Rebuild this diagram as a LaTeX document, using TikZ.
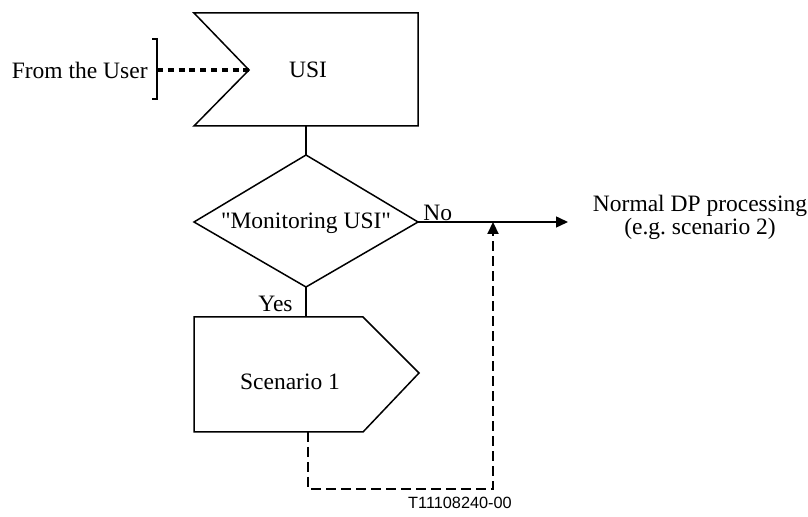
\documentclass[tikz,border=0pt]{standalone}
\usepackage{fontspec}
\setmainfont{Liberation Serif}
\newfontfamily\labelsans{Liberation Sans}
\usetikzlibrary{arrows.meta}
\frenchspacing
\begin{document}
\begin{tikzpicture}[x=0.5pt,y=-0.5pt,
  shapeline/.style={draw=black,line width=0.75pt,line join=miter},
  txt/.style={font=\fontsize{11.75}{14}\selectfont,inner sep=0pt},
  flow/.style={draw=black,line width=0.75pt,-{Triangle[length=6pt,width=5.5pt]}},
  plain/.style={draw=black,line width=0.75pt},
  dottedthick/.style={draw=black,line width=2pt,dash pattern=on 3pt off 2.4pt},
  dashedline/.style={draw=black,line width=1.1pt,dash pattern=on 5pt off 2.5pt},
  backflow/.style={dashedline,-{Triangle[length=6pt,width=5.5pt]}},
]
\useasboundingbox (0,0) rectangle (808,517);

% USI input symbol
\coordinate (usiNotch) at (249,70);
\coordinate (usiBottom) at (306,126);
\draw[shapeline] (194,13) -- (418,13) -- (418,126) -- (194,126) -- (usiNotch) -- cycle;
\node[txt] (usi) at (308,70) {USI};

% From the User with bracket
\node[txt,anchor=east] (user) at (148,70) {From the User};
\coordinate (brk) at (157,70);
\draw[plain] (152,39) -- (157,39) -- (157,99) -- (152,99);
\draw[dottedthick] (brk) -- (usiNotch);

% decision diamond
\coordinate (dTop) at (306,155);
\coordinate (dRight) at (418,222);
\coordinate (dBottom) at (306,287);
\coordinate (dLeft) at (194,222);
\draw[shapeline] (dTop) -- (dRight) -- (dBottom) -- (dLeft) -- cycle;
\node[txt] (mon) at (306,223) {\textquotedbl Monitoring USI\textquotedbl};
\draw[plain] (usiBottom) -- (dTop);

% No branch
\node[txt,anchor=base west] (no) at (423,221) {No};
\coordinate (dpArrow) at (568,222);
\draw[flow] (dRight) -- (dpArrow);
\node[txt,anchor=base] (dpA) at (700,212) {Normal DP processing};
\node[txt,anchor=base] (dpB) at (700,235) {(e.g. scenario 2)};

% Yes branch
\node[txt,anchor=base west] (yes) at (258,312) {Yes};
\coordinate (scTop) at (306,317);
\draw[plain] (dBottom) -- (scTop);

% Scenario 1 output symbol
\draw[shapeline] (194,317) -- (363,317) -- (419,373) -- (363,432) -- (194,432) -- cycle;
\node[txt] (sc) at (290,382) {Scenario 1};

% dashed return
\coordinate (scBottom) at (308,432);
\coordinate (c1) at (308,489);
\coordinate (c2) at (493,489);
\coordinate (joinPt) at (493,222);
\draw[backflow] (scBottom) -- (c1) -- (c2) -- (joinPt);

% figure number
\node[inner sep=0pt,font=\labelsans\fontsize{8.15}{10}\selectfont] (tnum) at (460,503) {T11108240-00};
\end{tikzpicture}
\end{document}
